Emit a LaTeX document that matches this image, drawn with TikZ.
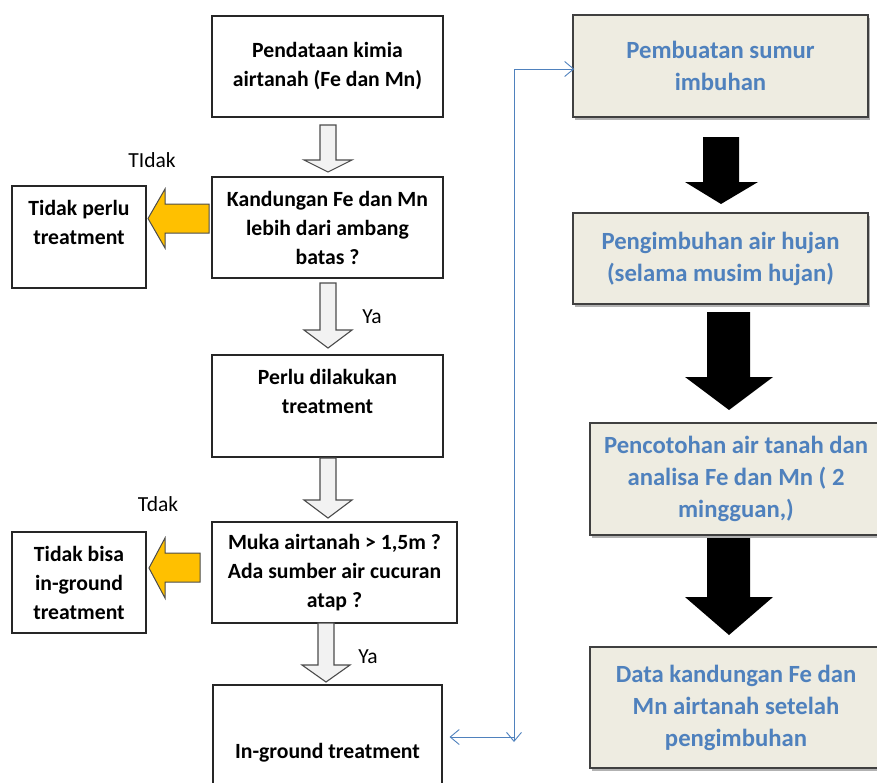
\documentclass[tikz,border=0pt]{standalone}
\usepackage{fontspec}
\setmainfont{Carlito}
\usetikzlibrary{arrows.meta,shadows}
\definecolor{tanbg}{HTML}{EEECE1}
\definecolor{txtblue}{HTML}{4F81BD}
\definecolor{amber}{HTML}{FFC000}
\definecolor{palegray}{HTML}{F2F2F2}
\begin{document}
\begin{tikzpicture}[x=1pt,y=-1pt,
    box/.style={draw=black!85,line width=1.1pt,fill=white,align=center,inner sep=2pt,
        font=\fontsize{21.7}{29}\selectfont\bfseries},
    rbox/.style={draw=black!75,line width=1.4pt,fill=tanbg,align=center,inner sep=2pt,
        text=txtblue,font=\fontsize{24.7}{32}\selectfont\bfseries,
        drop shadow={shadow xshift=2pt,shadow yshift=-3pt,fill=black!60,opacity=.5}},
    hollow/.style={draw=black!70,line width=1.1pt,fill=palegray,line join=miter},
    amberarrow/.style={draw=black!70,line width=1pt,fill=amber},
    blackarrow/.style={fill=black},
    conn/.style={draw=txtblue,line width=0.9pt,-{Straight Barb[length=9pt,width=15pt]}},
    lbl/.style={font=\fontsize{21.5}{26}\selectfont}]
    \useasboundingbox (0,0) rectangle (877,782);
    \node[box,minimum width=231pt,minimum height=101pt] (pendataan) at (327.5,66.5) {Pendataan kimia\\airtanah (Fe dan Mn)};
    \node[box,minimum width=231pt,minimum height=101pt] (kandungan) at (327.5,227.5) {Kandungan Fe dan Mn\\lebih dari ambang\\batas ?};
    \node[box,minimum width=134pt,minimum height=102pt] (tidakperlu) at (79,237) {Tidak perlu\\treatment\\\rule{0pt}{0pt}};
    \node[box,minimum width=231pt,minimum height=102pt] (perlu) at (327.5,406) {Perlu dilakukan\\treatment\\\rule{0pt}{0pt}};
    \node[box,minimum width=245pt,minimum height=101pt] (muka) at (334.5,572.5) {Muka airtanah > 1,5m ?\\Ada sumber air cucuran\\atap ?};
    \node[box,minimum width=134pt,minimum height=101pt] (tidakbisa) at (79,582.5) {Tidak bisa\\in-ground\\treatment};
    \node[box,minimum width=229pt,minimum height=135pt] (inground) at (327.5,752.5) {In-ground treatment};
    \node[rbox,minimum width=295pt,minimum height=102pt] (sumur) at (720.5,66) {Pembuatan sumur\\imbuhan};
    \node[rbox,minimum width=295pt,minimum height=91pt] (hujan) at (720.5,258.5) {Pengimbuhan air hujan\\(selama musim hujan)};
    \node[rbox,minimum width=292pt,minimum height=112pt] (sampel) at (736,479) {Pencotohan air tanah dan\\analisa Fe dan Mn ( 2\\mingguan,)};
    \node[rbox,minimum width=292pt,minimum height=121pt] (hasil) at (736,707.5) {Data kandungan Fe dan\\Mn airtanah setelah\\pengimbuhan};
    \draw[hollow] (320,125)--(336,125)--(336,160)--(352,160)--(328,172)--(304,160)--(320,160)--cycle;
    \draw[hollow] (320,283)--(336,283)--(336,330)--(352,330)--(328,348)--(304,330)--(320,330)--cycle;
    \draw[hollow] (320,458)--(336,458)--(336,500)--(352,500)--(328,518)--(304,500)--(320,500)--cycle;
    \draw[hollow] (318,623)--(334,623)--(334,665)--(350,665)--(326,682)--(302,665)--(318,665)--cycle;
    \draw[amberarrow] (209,204)--(165,204)--(165,189)--(148,218.5)--(165,248)--(165,233)--(209,233)--cycle;
    \draw[amberarrow] (200,553)--(165,553)--(165,538)--(149,568)--(165,598)--(165,582)--(200,582)--cycle;
    \fill[blackarrow] (703,137)--(739,137)--(739,182)--(758,182)--(721,204)--(685,182)--(703,182)--cycle;
    \fill[blackarrow] (707,312)--(750,312)--(750,377)--(773,377)--(729,410)--(685,377)--(707,377)--cycle;
    \fill[blackarrow] (707,538)--(750,538)--(750,597)--(773,597)--(729,635)--(685,597)--(707,597)--cycle;
    \node[lbl] (tidakA) at (152,160) {TIdak};
    \node[lbl] (yaA) at (372,317) {Ya};
    \node[lbl] (tidakB) at (158,504) {Tdak};
    \node[lbl] (yaB) at (368,657) {Ya};
    \coordinate (ctop) at (514,69);
    \coordinate (cbot) at (514,742);
    \draw[conn] (ctop) -- (cbot);
    \draw[conn] (514,737) -- (inground.east |- 0,737) [shorten >=7pt];
    \draw[conn] (ctop) -- (sumur.west |- ctop) [shorten >=-2pt];
\end{tikzpicture}
\end{document}
